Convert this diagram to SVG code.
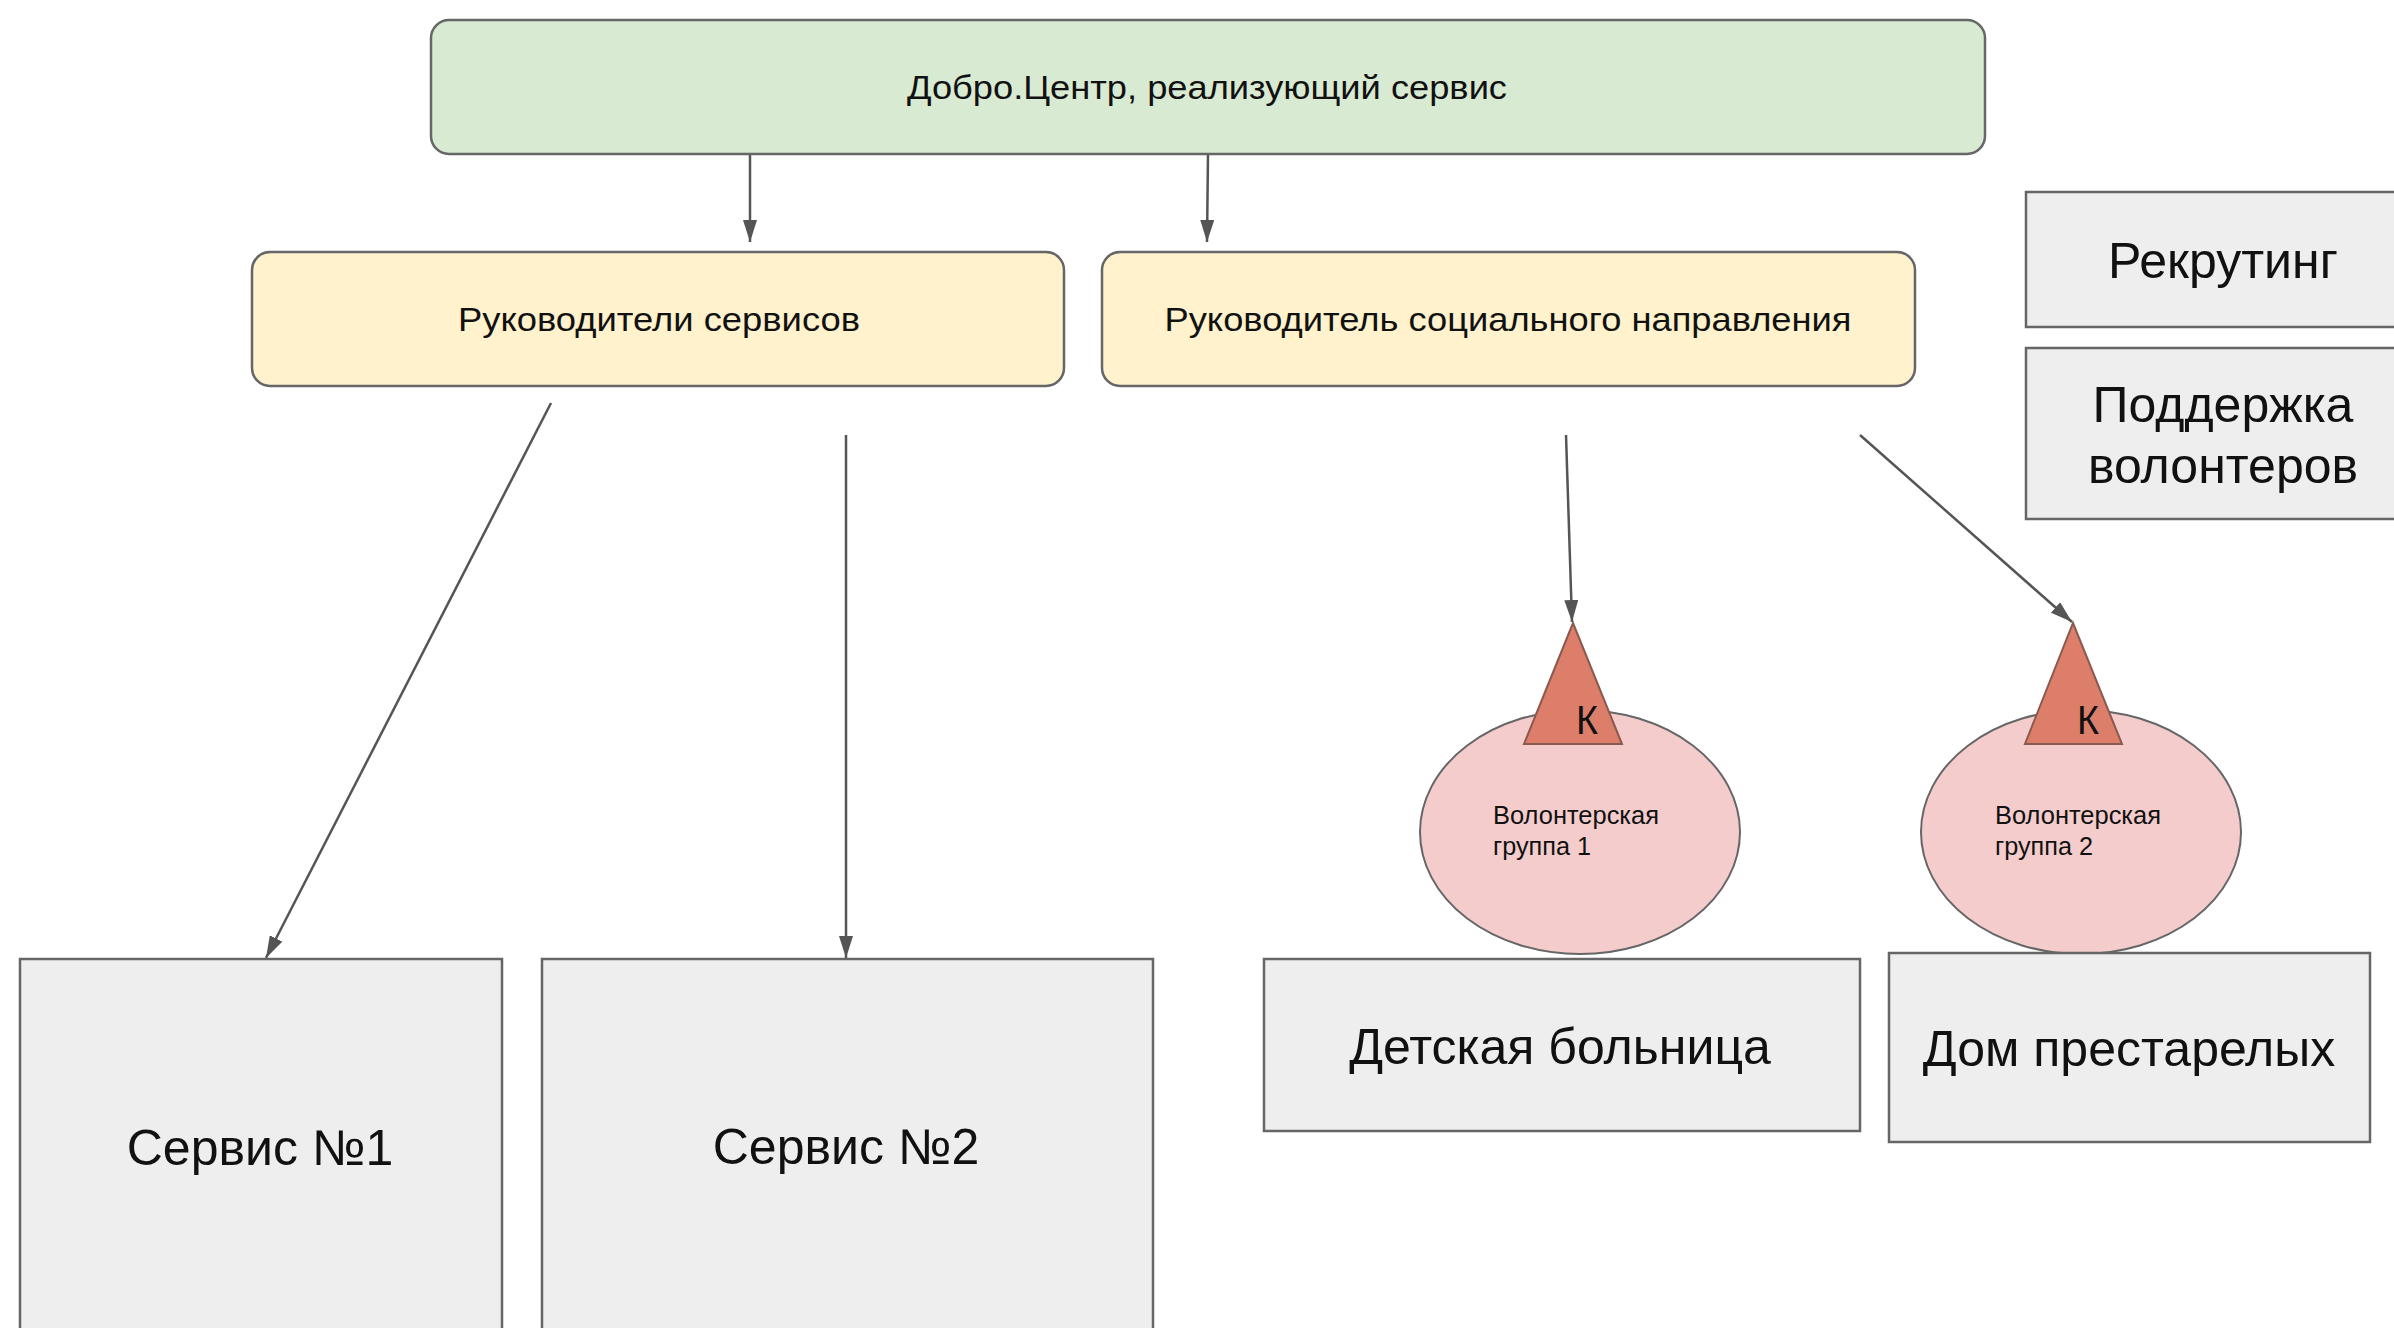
<svg xmlns="http://www.w3.org/2000/svg" width="2394" height="1328" viewBox="0 0 2394 1328">
<style>
text{font-family:"Liberation Sans",Arial,sans-serif;fill:#111}
.green{fill:#d9ead3;stroke:#666;stroke-width:2.5}
.yellow{fill:#fff2cc;stroke:#666;stroke-width:2.5}
.gray{fill:#eeeeee;stroke:#666;stroke-width:2.5}
.ell{fill:#f4cccc;stroke:#666;stroke-width:2}
.tri{fill:#dd7e6b;stroke:#8a5a50;stroke-width:2}
.conn{stroke:#555;stroke-width:2.5;fill:none;marker-end:url(#ah)}
.mid{font-size:34px;text-anchor:middle;dominant-baseline:central}
.big{font-size:50px;text-anchor:middle;dominant-baseline:central}
.small{font-size:25px}
.k{font-size:40px;text-anchor:middle}
</style>
<defs>
<marker id="ah" viewBox="0 0 22 14" refX="22" refY="7" markerWidth="22" markerHeight="14" markerUnits="userSpaceOnUse" orient="auto">
<path d="M0,0 L22,7 L0,14 Z" fill="#555"/>
</marker>
</defs>
<rect width="2394" height="1328" fill="#fff"/>
<g id="connectors">
<line class="conn" x1="750" y1="154" x2="750" y2="242"/>
<line class="conn" x1="1208" y1="154" x2="1207" y2="242"/>
<line class="conn" x1="551" y1="403" x2="266" y2="958"/>
<line class="conn" x1="846" y1="435" x2="846" y2="958"/>
<line class="conn" x1="1566" y1="435" x2="1572" y2="622"/>
<line class="conn" x1="1860" y1="435" x2="2072" y2="622"/>
</g>
<g id="dobro">
<rect class="green" x="431" y="20" width="1554" height="134" rx="18"/>
<text class="mid" x="1207" y="87" textLength="600" lengthAdjust="spacingAndGlyphs">Добро.Центр, реализующий сервис</text>
</g>
<g id="ruk-servisov">
<rect class="yellow" x="252" y="252" width="812" height="134" rx="18"/>
<text class="mid" x="659" y="319" textLength="402" lengthAdjust="spacingAndGlyphs">Руководители сервисов</text>
</g>
<g id="ruk-social">
<rect class="yellow" x="1102" y="252" width="813" height="134" rx="18"/>
<text class="mid" x="1508" y="319" textLength="687" lengthAdjust="spacingAndGlyphs">Руководитель социального направления</text>
</g>
<g id="rekruting">
<rect class="gray" x="2026" y="192" width="380" height="135"/>
<text class="big" x="2223" y="261">Рекрутинг</text>
</g>
<g id="podderzhka">
<rect class="gray" x="2026" y="348" width="380" height="171"/>
<text class="big" x="2223" y="405">Поддержка</text>
<text class="big" x="2223" y="466">волонтеров</text>
</g>
<g id="group1">
<ellipse class="ell" cx="1580" cy="832" rx="160" ry="122"/>
<text class="small" x="1493" y="824" textLength="166" lengthAdjust="spacingAndGlyphs">Волонтерская</text>
<text class="small" x="1493" y="855" textLength="98" lengthAdjust="spacingAndGlyphs">группа 1</text>
</g>
<g id="coord1">
<polygon class="tri" points="1573,623 1622,744 1524,744"/>
<text class="k" x="1587" y="734" textLength="22" lengthAdjust="spacingAndGlyphs">К</text>
</g>
<g id="group2">
<ellipse class="ell" cx="2081" cy="832" rx="160" ry="122"/>
<text class="small" x="1995" y="824" textLength="166" lengthAdjust="spacingAndGlyphs">Волонтерская</text>
<text class="small" x="1995" y="855" textLength="98" lengthAdjust="spacingAndGlyphs">группа 2</text>
</g>
<g id="coord2">
<polygon class="tri" points="2073,623 2122,744 2025,744"/>
<text class="k" x="2088" y="734" textLength="22" lengthAdjust="spacingAndGlyphs">К</text>
</g>
<g id="servis1">
<rect class="gray" x="20" y="959" width="482" height="400"/>
<text class="big" x="260" y="1148">Сервис №1</text>
</g>
<g id="servis2">
<rect class="gray" x="542" y="959" width="611" height="400"/>
<text class="big" x="846" y="1147">Сервис №2</text>
</g>
<g id="bolnica">
<rect class="gray" x="1264" y="959" width="596" height="172"/>
<text class="big" x="1560" y="1047">Детская больница</text>
</g>
<g id="dom">
<rect class="gray" x="1889" y="953" width="481" height="189"/>
<text class="big" x="2129" y="1049">Дом престарелых</text>
</g>
</svg>
